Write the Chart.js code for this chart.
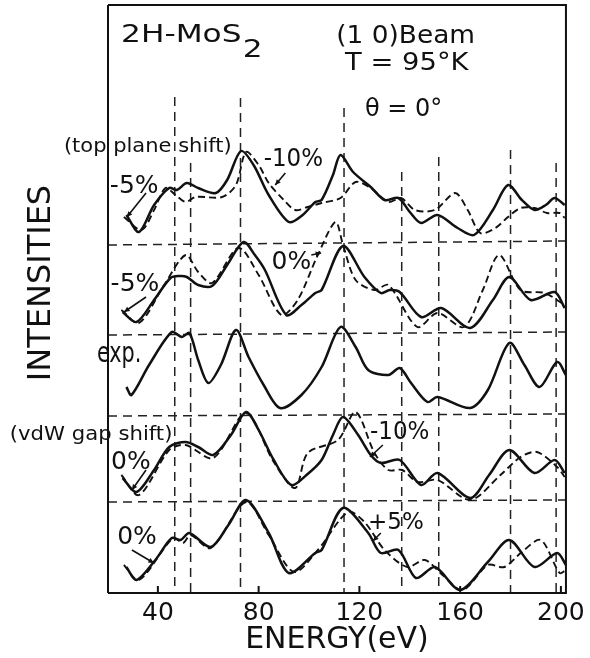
<!DOCTYPE html>
<html>
<head>
<meta charset="utf-8">
<script src="https://cdn.jsdelivr.net/npm/chart.js@4.4.1/dist/chart.umd.min.js"></script>
<style>
  html, body { margin: 0; padding: 0; background: #fff; }
</style>
</head>
<body>
<canvas id="chart" width="590" height="658"></canvas>
<script>
const energyTicks = [40, 80, 120, 160, 200];

// top plane shift: solid (-5%) and dashed (-10%)
const topSolidE = [27.5, 32.5, 38.5, 44.5, 47.5, 51.5, 56, 63, 67.5, 73, 78, 84, 92, 97.5, 102.5, 105, 109.5, 112.5, 117.5, 124.5, 130, 135.5, 140, 144.5, 151, 159, 165.5, 173, 179, 184.5, 189.5, 194, 197.5, 201.5];
const topSolidI = [378, 361, 388, 405, 403, 410, 405, 400, 413, 442, 428, 398, 371, 378, 391, 393, 418, 438, 421, 406, 393, 395, 381, 370, 378, 365, 358, 383, 408, 393, 383, 388, 395, 388];
const topDashE = [26.5, 33.5, 38.5, 43, 47, 51, 55, 65.5, 71, 75, 80, 84, 90, 94.5, 99.5, 105, 112.5, 118.5, 124.5, 131.5, 136.5, 142, 150, 158, 163, 168, 174, 179, 184, 189.5, 194.5, 199.5, 201.5];
const topDashI = [376, 363, 383, 405, 398, 391, 396, 396, 408, 441, 428, 410, 393, 383, 386, 390, 395, 411, 405, 391, 395, 383, 383, 400, 383, 360, 365, 376, 385, 385, 380, 380, 375];

// second panel: solid (-5%) and dashed (0%)
const midSolidE = [26, 31.5, 38.5, 45, 48.5, 51.5, 56, 61.5, 67.5, 74, 78.5, 82.5, 91, 97, 102.5, 105, 113.5, 122, 128.5, 132, 136, 144.5, 152.5, 164, 173, 179.5, 188, 197.5, 201.5];
const midSolidI = [281, 271, 293, 315, 317, 316, 308, 307, 328, 351, 338, 323, 278, 288, 300, 303, 347, 316, 300, 303, 301, 276, 285, 265, 293, 316, 293, 301, 285];
const midDashE = [25.5, 32.5, 42.5, 51, 56, 61.5, 72, 80, 89, 95.5, 103.5, 110.5, 113.5, 118.5, 126, 131.5, 143, 151, 161.5, 169, 175.5, 184, 193.5, 201.5];
const midDashI = [283, 270, 308, 338, 321, 310, 345, 318, 278, 293, 338, 371, 348, 313, 303, 308, 266, 280, 266, 303, 338, 303, 300, 288];

// experiment
const expE = [27.5, 29.5, 36.5, 45.5, 49.5, 52.5, 56, 60, 65, 71, 76, 82, 88.5, 97, 105, 112.5, 118.5, 123.5, 131.5, 136, 140.5, 147, 151, 164, 171, 179.5, 185.5, 191.5, 198.5, 202];
const expI = [206, 198, 228, 261, 256, 260, 233, 210, 228, 263, 236, 208, 185, 198, 226, 266, 246, 223, 218, 225, 210, 191, 196, 185, 203, 250, 228, 206, 231, 218];

// vdW gap shift: solid (0%) and dashed (-10%)
const vdwSolidE = [26, 31.5, 38.5, 44.5, 51, 56, 62, 69, 75, 80, 86, 93, 99, 105, 109.5, 113.5, 119.5, 124.5, 128.5, 136, 144.5, 151, 164, 171.5, 179.5, 189.5, 197.5, 201.5];
const vdwSolidI = [115, 101, 123, 146, 151, 146, 138, 158, 181, 163, 133, 108, 118, 133, 158, 176, 158, 138, 130, 133, 108, 120, 95, 118, 143, 120, 133, 120];
const vdwDashE = [25.5, 32.5, 44.5, 51, 62, 75, 86, 94.5, 99.5, 111.5, 118.5, 126, 131.5, 137, 143, 151, 164, 176, 184, 190.5, 198.5, 201.5];
const vdwDashI = [118, 98, 143, 148, 135, 180, 131, 105, 140, 153, 181, 140, 123, 123, 111, 113, 93, 118, 136, 141, 126, 116];

// bottom panel: solid (0%) and dashed (+5%)
const lowSolidE = [27.5, 31.5, 39, 45.5, 49, 52.5, 61, 68, 75, 84, 92, 102.5, 105, 113.5, 123.5, 128.5, 135.5, 142.5, 150, 160, 171, 179.5, 189.5, 198.5, 202];
const lowSolidI = [26, 13, 33, 55, 53, 60, 46, 68, 93, 60, 20, 40, 43, 85, 60, 40, 43, 15, 26, 3, 31, 53, 26, 40, 28];
const lowDashE = [26.5, 32.5, 46, 50, 53, 61, 75, 84, 94, 103.5, 115.5, 122, 130, 139, 146, 153, 161, 171, 177.5, 184.5, 192, 199.5, 202];
const lowDashI = [28, 13, 55, 50, 58, 45, 91, 58, 21, 43, 81, 71, 43, 26, 33, 18, 3, 28, 26, 41, 53, 20, 23];

// reference energies (vertical dashed lines) and where they start
const markE = [46.7, 53, 72.8, 113.9, 136.8, 151.5, 180, 198.1];
const markTop = [496, 430, 495, 485, 421, 436, 443, 430];

// panel separators (left / right end)
const sepLeft = [348, 258, 177, 91];
const sepRight = [352, 261, 179, 93];

const E_MIN = 20.2;
const E_MAX = 202;

const labels = [
  { text: '(top plane shift)', e: 36, i: 446, size: 20, sx: 1.05 },
  { text: '-5%', e: 30.6, i: 407, size: 25, sx: 1 },
  { text: '-10%', e: 93.8, i: 434, size: 25, sx: 0.92 },
  { text: '-5%', e: 30.9, i: 309, size: 25, sx: 1 },
  { text: '0%', e: 93, i: 331, size: 25, sx: 1 },
  { text: 'exp.', e: 24.6, i: 238, size: 28, sx: 0.74 },
  { text: '(vdW gap shift)', e: 13.5, i: 158, size: 20, sx: 1.06 },
  { text: '0%', e: 29.3, i: 131, size: 25, sx: 1 },
  { text: '-10%', e: 136, i: 161, size: 25, sx: 0.92 },
  { text: '0%', e: 31.7, i: 56, size: 25, sx: 1 },
  { text: '+5%', e: 134.5, i: 70, size: 23, sx: 1 }
];

const arrows = [
  [35.3, 400, 27.7, 376],
  [90.6, 420, 86.6, 408],
  [35.3, 296, 26.6, 281],
  [100.9, 338, 104.8, 340],
  [35.3, 123, 29.7, 103],
  [129.3, 148, 124.2, 136],
  [29.7, 43, 38.4, 30],
  [128.5, 60, 125.4, 52]
];

// left frame is broken where the labels sit
const frameGaps = [[418, 456], [221, 256], [145, 175]];

function points(xs, ys) {
  return xs.map((x, i) => ({ x, y: ys[i] }));
}

function curve(xs, ys, dashed) {
  return {
    data: points(xs, ys),
    borderColor: '#111',
    borderWidth: dashed ? 1.9 : 2.5,
    borderDash: dashed ? [7, 4] : [],
    tension: 0.3,
    pointRadius: 0
  };
}

function guide(data) {
  return {
    data,
    borderColor: '#222',
    borderWidth: 1.5,
    borderDash: [9, 6],
    tension: 0,
    pointRadius: 0
  };
}

const datasets = [
  curve(topSolidE, topSolidI, false),
  curve(topDashE, topDashI, true),
  curve(midSolidE, midSolidI, false),
  curve(midDashE, midDashI, true),
  curve(expE, expI, false),
  curve(vdwSolidE, vdwSolidI, false),
  curve(vdwDashE, vdwDashI, true),
  curve(lowSolidE, lowSolidI, false),
  curve(lowDashE, lowDashI, true)
];
markE.forEach((e, k) => datasets.push(guide([{ x: e, y: markTop[k] }, { x: e, y: 0 }])));
sepLeft.forEach((v, k) => datasets.push(guide([{ x: E_MIN, y: v }, { x: E_MAX, y: sepRight[k] }])));

function drawText(ctx, text, px, py, size, sx, align, baseline, style) {
  ctx.save();
  ctx.translate(px, py);
  ctx.scale(sx, 1);
  ctx.font = (style || '') + ' ' + size + 'px "DejaVu Sans"';
  ctx.textAlign = align;
  ctx.textBaseline = baseline;
  ctx.fillText(text, 0, 0);
  ctx.restore();
}

const figurePlugin = {
  id: 'figure',
  afterDatasetsDraw(chart) {
    const { ctx, chartArea: a, scales: { x, y } } = chart;
    ctx.save();
    ctx.strokeStyle = '#111';
    ctx.fillStyle = '#111';
    ctx.lineWidth = 2;

    // frame
    ctx.beginPath();
    ctx.moveTo(a.left, a.bottom);
    ctx.lineTo(a.right, a.bottom);
    ctx.lineTo(a.right, a.top);
    ctx.lineTo(a.left, a.top);
    let yStart = a.top;
    frameGaps.forEach(([hi, lo]) => {
      ctx.moveTo(a.left, yStart);
      ctx.lineTo(a.left, y.getPixelForValue(hi));
      yStart = y.getPixelForValue(lo);
    });
    ctx.moveTo(a.left, yStart);
    ctx.lineTo(a.left, a.bottom);
    ctx.stroke();

    // inward tick marks
    ctx.beginPath();
    energyTicks.forEach(v => {
      const px = x.getPixelForValue(v);
      ctx.moveTo(px, a.bottom);
      ctx.lineTo(px, a.bottom - 7);
    });
    ctx.stroke();

    // curve labels
    labels.forEach(l => {
      drawText(ctx, l.text, x.getPixelForValue(l.e), y.getPixelForValue(l.i), l.size, l.sx, 'center', 'middle');
    });

    // arrows
    ctx.lineWidth = 1.6;
    arrows.forEach(([e0, i0, e1, i1]) => {
      const x0 = x.getPixelForValue(e0), y0 = y.getPixelForValue(i0);
      const x1 = x.getPixelForValue(e1), y1 = y.getPixelForValue(i1);
      const ang = Math.atan2(y1 - y0, x1 - x0);
      ctx.beginPath();
      ctx.moveTo(x0, y0);
      ctx.lineTo(x1, y1);
      ctx.stroke();
      ctx.beginPath();
      ctx.moveTo(x1, y1);
      ctx.lineTo(x1 - 6 * Math.cos(ang - 0.45), y1 - 6 * Math.sin(ang - 0.45));
      ctx.lineTo(x1 - 6 * Math.cos(ang + 0.45), y1 - 6 * Math.sin(ang + 0.45));
      ctx.closePath();
      ctx.fill();
    });

    // title block
    const tx = x.getPixelForValue(25.4), ty = y.getPixelForValue(551);
    ctx.save();
    ctx.translate(tx, ty);
    ctx.scale(1.3, 1);
    ctx.font = '24px "DejaVu Sans"';
    ctx.textAlign = 'left';
    ctx.textBaseline = 'alphabetic';
    ctx.fillText('2H-MoS', 0, 0);
    const w = ctx.measureText('2H-MoS').width;
    ctx.fillText('2', w + 1, 15);
    ctx.restore();
    drawText(ctx, '(1 0)Beam', x.getPixelForValue(110.8), y.getPixelForValue(550), 24, 1.1, 'left', 'alphabetic');
    drawText(ctx, 'T = 95°K', x.getPixelForValue(114.3), y.getPixelForValue(523), 24, 1.14, 'left', 'alphabetic');
    drawText(ctx, 'θ = 0°', x.getPixelForValue(122.2), y.getPixelForValue(477), 24, 1.0, 'left', 'alphabetic');

    // vertical axis title
    ctx.save();
    ctx.translate(a.left - 66, y.getPixelForValue(310));
    ctx.rotate(-Math.PI / 2);
    ctx.font = '32px "DejaVu Sans"';
    ctx.textAlign = 'center';
    ctx.textBaseline = 'middle';
    ctx.fillText('INTENSITIES', 0, 0);
    ctx.restore();

    ctx.restore();
  }
};

new Chart(document.getElementById('chart'), {
  type: 'line',
  data: { datasets },
  options: {
    responsive: false,
    animation: false,
    devicePixelRatio: 1,
    layout: { padding: { left: 108, right: 21, top: 5, bottom: 0 } },
    plugins: { legend: { display: false }, tooltip: { enabled: false } },
    scales: {
      x: {
        type: 'linear',
        min: E_MIN,
        max: E_MAX,
        afterBuildTicks: s => { s.ticks = energyTicks.map(v => ({ value: v })); },
        afterFit: s => { s.height = 65; },
        grid: { display: false, drawTicks: false },
        border: { display: false },
        ticks: {
          color: '#111',
          font: { family: 'DejaVu Sans', size: 25 },
          padding: 5,
          maxRotation: 0,
          autoSkip: false
        },
        title: {
          display: true,
          text: 'ENERGY(eV)',
          color: '#111',
          font: { family: 'DejaVu Sans', size: 30 },
          padding: { top: 0, bottom: 0 }
        }
      },
      y: { display: false, min: 0, max: 588 }
    }
  },
  plugins: [figurePlugin]
});
</script>
</body>
</html>
